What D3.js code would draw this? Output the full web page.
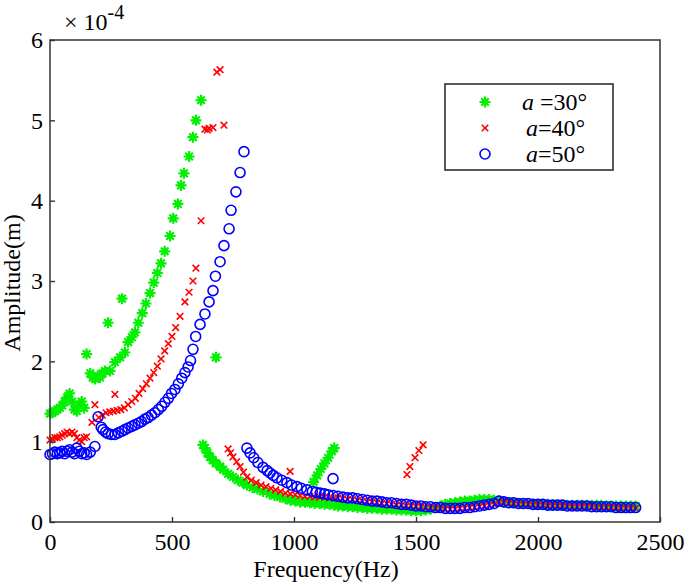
<!DOCTYPE html>
<html>
<head>
  <meta charset="utf-8">
  <title>Amplitude vs frequency</title>
  <script src="https://cdn.jsdelivr.net/npm/d3@7/dist/d3.min.js"></script>
  <style>
    body { margin: 0; background: #fff; }
    text { font-family: "Liberation Serif", "Times New Roman", serif; fill: #000; }
  </style>
</head>
<body>
<div id="chart"></div>
<script>

// amplitude in units of 1e-4 m, frequency in Hz
var green30 = [
  [0,1.35],[10,1.36],[20,1.38],[30,1.40],[40,1.42],[50,1.45],[60,1.50],[70,1.55],[80,1.60],[90,1.50],
  [100,1.40],[110,1.38],[120,1.45],[130,1.50],[140,1.42],[150,2.09],[165,1.85],[175,1.80],[185,1.78],[195,1.82],
  [205,1.80],[215,1.85],[225,1.88],[238,2.48],[246,1.88],[266,1.99],[287,2.05],[295,2.78],[307,2.11],[320,2.24],
  [335,2.30],[348,2.36],[362,2.48],[378,2.60],[393,2.72],[410,2.85],[425,2.98],[440,3.10],[455,3.22],[470,3.37],
  [492,3.56],[505,3.78],[524,3.96],[537,4.19],[549,4.34],[570,4.55],[586,4.79],[598,5.00],[619,5.25],[680,2.05],
  [627,0.96],[635,0.92],[645,0.86],[656,0.81],[667,0.77],[680,0.73],[697,0.69],[710,0.65],[730,0.60],[750,0.56],
  [770,0.52],[790,0.49],[807,0.46],[830,0.43],[850,0.41],[873,0.38],[900,0.35],[920,0.33],[943,0.31],[965,0.29],
  [985,0.27],[1005,0.26],[1025,0.25],[1045,0.245],[1066,0.24],[1085,0.23],[1105,0.23],[1125,0.22],[1145,0.22],[1165,0.21],
  [1080,0.50],[1095,0.58],[1110,0.66],[1125,0.73],[1140,0.80],[1155,0.88],[1165,0.92]
];
var red40 = [
  [0,1.02],[10,1.03],[20,1.05],[30,1.05],[40,1.06],[50,1.08],[60,1.10],[70,1.12],[80,1.10],[90,1.12],
  [100,1.10],[110,1.05],[120,1.02],[130,1.00],[140,1.05],[150,1.06],[172,1.24],[184,1.46],[200,1.30],[215,1.33],
  [230,1.36],[245,1.37],[260,1.38],[266,1.59],[275,1.39],[290,1.40],[305,1.42],[320,1.46],[335,1.50],[350,1.54],
  [365,1.60],[380,1.66],[395,1.72],[410,1.79],[425,1.86],[440,1.94],[455,2.03],[470,2.13],[485,2.22],[500,2.31],
  [515,2.42],[533,2.56],[553,2.74],[570,2.86],[586,3.00],[598,3.16],[619,3.75],[635,4.89],[645,4.88],[652,4.90],
  [668,4.91],[684,5.60],[697,5.63],[713,4.94],
  [730,0.91],[740,0.86],[750,0.81],[765,0.75],[779,0.69],[793,0.62],[807,0.56],[825,0.52],[845,0.49],[865,0.46],
  [885,0.44],[905,0.42],[925,0.40],[945,0.38],[965,0.36],[984,0.63],[985,0.35],[1005,0.34],[1025,0.33],[1045,0.32],
  [1065,0.32],[1085,0.31],[1105,0.31],[1125,0.31],[1145,0.30],[1165,0.30],
  [1463,0.59],[1475,0.69],[1496,0.80],[1512,0.89],[1529,0.96]
];
var blue50 = [
  [0,0.84],[10,0.85],[20,0.87],[30,0.85],[40,0.86],[50,0.88],[60,0.85],[70,0.88],[80,0.90],[90,0.87],
  [100,0.85],[110,0.92],[120,0.88],[130,0.85],[140,0.86],[150,0.84],[165,0.87],[184,0.94],[197,1.31],[210,1.18],
  [217,1.15],[228,1.12],[238,1.10],[252,1.09],[266,1.09],[280,1.11],[295,1.13],[307,1.15],[320,1.17],[335,1.19],
  [348,1.21],[362,1.23],[375,1.25],[389,1.28],[402,1.30],[416,1.33],[430,1.36],[444,1.40],[458,1.44],[471,1.49],
  [485,1.54],[498,1.60],[512,1.65],[526,1.72],[540,1.79],[553,1.86],[566,1.93],[576,2.01],[586,2.15],[597,2.31],
  [615,2.46],[635,2.59],[652,2.74],[668,2.88],[678,3.06],[697,3.24],
  [713,3.44],[734,3.65],[742,3.88],[762,4.11],[779,4.35],[795,4.61],
  [807,0.92],[820,0.86],[835,0.80],[852,0.74],[873,0.68],[890,0.64],[902,0.61],[915,0.58],[930,0.55],[950,0.52],
  [971,0.49],[990,0.46],[1012,0.44],[1030,0.42],[1053,0.40],[1075,0.38],[1090,0.37],[1107,0.36],[1125,0.35],[1140,0.34],
  [1160,0.33],[1160,0.54]
];

// shared frequency sweep above 1180 Hz
var tailFreq = [
  1180,1200,1220,1240,1260,1280,1300,1320,1340,1360,
  1380,1400,1420,1440,1460,1480,1500,1520,1540,1560,
  1580,1600,1620,1640,1660,1680,1700,1720,1740,1760,
  1780,1800,1820,1840,1860,1880,1900,1920,1940,1960,
  1980,2000,2020,2040,2060,2080,2100,2120,2140,2160,
  2180,2200,2220,2240,2260,2280,2300,2320,2340,2360,
  2380,2400
];
var tailGreen = [
  .20,.20,.19,.19,.18,.18,.17,.17,.17,.16,
  .16,.16,.15,.15,.15,.14,.14,.14,.15,.16,
  .18,.20,.22,.23,.24,.25,.26,.26,.27,.28,
  .28,.28,.27,.26,.25,.24,.24,.23,.23,.23,
  .22,.22,.22,.22,.21,.21,.21,.21,.21,.21,
  .21,.21,.21,.21,.21,.20,.20,.20,.20,.20,
  .20,.20
];
var tailRed = [
  .30,.29,.28,.28,.27,.26,.25,.25,.24,.23,
  .23,.22,.21,.21,.20,.20,.19,.19,.18,.18,
  .17,.17,.16,.16,.16,.17,.17,.18,.18,.19,
  .20,.21,.22,.25,.24,.23,.23,.22,.22,.22,
  .21,.21,.21,.20,.20,.20,.20,.19,.19,.19,
  .19,.19,.19,.18,.18,.18,.18,.18,.17,.17,
  .17,.17
];
var tailBlue = [
  .32,.31,.30,.30,.29,.28,.27,.26,.26,.25,
  .24,.24,.23,.22,.22,.21,.20,.20,.19,.19,
  .18,.18,.17,.17,.17,.17,.18,.18,.19,.20,
  .21,.22,.23,.26,.25,.24,.24,.23,.23,.23,
  .22,.22,.22,.21,.21,.21,.21,.20,.20,.20,
  .20,.20,.19,.19,.19,.19,.19,.18,.18,.18,
  .18,.18
];

var xTicks = [0, 500, 1000, 1500, 2000, 2500];
var yTicks = [0, 1, 2, 3, 4, 5, 6];
var legendLabels = ["=30°", "=40°", "=50°"];

var width = 685, height = 584;

var svg = d3.select('#chart').append('svg')
  .attr('width', width)
  .attr('height', height);

var x = d3.scaleLinear().domain([0, 2500]).range([50, 660]);
var y = d3.scaleLinear().domain([0, 6]).range([522, 40]);

function withTail(pts, amps){
  return pts.concat(tailFreq.map(function(f, i){ return [f, amps[i]]; }));
}

var starPath = 'M-5.5,0H5.5M0,-5.5V5.5M-3.8,-3.8L3.8,3.8M-3.8,3.8L3.8,-3.8';
var crossPath = 'M-3.3,-3.3L3.3,3.3M-3.3,3.3L3.3,-3.3';

// green asterisks
svg.append('g').selectAll('path')
  .data(withTail(green30, tailGreen))
  .join('path')
  .attr('transform', function(d){ return 'translate(' + x(d[0]) + ',' + y(d[1]) + ')'; })
  .attr('d', starPath)
  .style('stroke', '#00f000')
  .style('stroke-width', 2.2)
  .style('fill', 'none');

// red crosses
svg.append('g').selectAll('path')
  .data(withTail(red40, tailRed))
  .join('path')
  .attr('transform', function(d){ return 'translate(' + x(d[0]) + ',' + y(d[1]) + ')'; })
  .attr('d', crossPath)
  .style('stroke', '#ff0000')
  .style('stroke-width', 1.6)
  .style('fill', 'none');

// blue circles
svg.append('g').selectAll('circle')
  .data(withTail(blue50, tailBlue))
  .join('circle')
  .attr('cx', function(d){ return x(d[0]); })
  .attr('cy', function(d){ return y(d[1]); })
  .attr('r', 5)
  .style('stroke', '#0000ff')
  .style('stroke-width', 1.6)
  .style('fill', 'none');

// axes, ticks inside
var gx = svg.append('g')
  .attr('transform', 'translate(0,' + y(0) + ')')
  .call(d3.axisBottom(x).tickValues(xTicks).tickSize(-5).tickPadding(11).tickFormat(d3.format('d')));
var gy = svg.append('g')
  .attr('transform', 'translate(' + x(0) + ',0)')
  .call(d3.axisLeft(y).tickValues(yTicks).tickSize(-5).tickPadding(7).tickFormat(d3.format('d')));

[gx, gy].forEach(function(g){
  g.select('.domain').remove();
  g.selectAll('line').style('stroke', '#333').style('stroke-width', 1.4);
  g.selectAll('text').style('font-size', '24px').style('font-family', '"Liberation Serif", serif').style('fill', '#000');
});

svg.append('rect')
  .attr('x', x(0)).attr('y', y(6))
  .attr('width', x(2500) - x(0)).attr('height', y(0) - y(6))
  .style('fill', 'none')
  .style('stroke', '#333')
  .style('stroke-width', 1.5);

// exponent label
var ex = svg.append('text').attr('x', 64).attr('y', 30).style('font-size', '24px');
ex.append('tspan').text('× 10').style('font-size', '24px');
ex.append('tspan').attr('dy', -11).text('-4').style('font-size', '20px');

// axis titles
svg.append('text')
  .attr('x', 326).attr('y', 577)
  .attr('text-anchor', 'middle')
  .style('font-size', '24px')
  .text('Frequency(Hz)');

svg.append('text')
  .attr('transform', 'translate(20,283) rotate(-90)')
  .attr('text-anchor', 'middle')
  .style('font-size', '24px')
  .text('Amplitude(m)');

// legend
var lg = svg.append('g');
lg.append('rect')
  .attr('x', 445).attr('y', 84).attr('width', 168).attr('height', 86)
  .style('fill', '#fff').style('stroke', '#222').style('stroke-width', 1.5);

var rows = [102, 128, 154];
lg.append('path').attr('transform', 'translate(485,' + rows[0] + ')').attr('d', starPath)
  .style('stroke', '#00f000').style('stroke-width', 2.2).style('fill', 'none');
lg.append('path').attr('transform', 'translate(485,' + rows[1] + ')').attr('d', crossPath)
  .style('stroke', '#ff0000').style('stroke-width', 1.6).style('fill', 'none');
lg.append('circle').attr('cx', 485).attr('cy', rows[2]).attr('r', 5)
  .style('stroke', '#0000ff').style('stroke-width', 1.6).style('fill', 'none');

legendLabels.forEach(function(lab, i){
  var t = lg.append('text').attr('x', i === 0 ? 522 : 526).attr('y', rows[i] + 8).style('font-size', '24px');
  t.append('tspan').style('font-style', 'italic').text('a');
  t.append('tspan').text(i === 0 ? ' ' + lab : lab);
});

</script>
</body>
</html>
